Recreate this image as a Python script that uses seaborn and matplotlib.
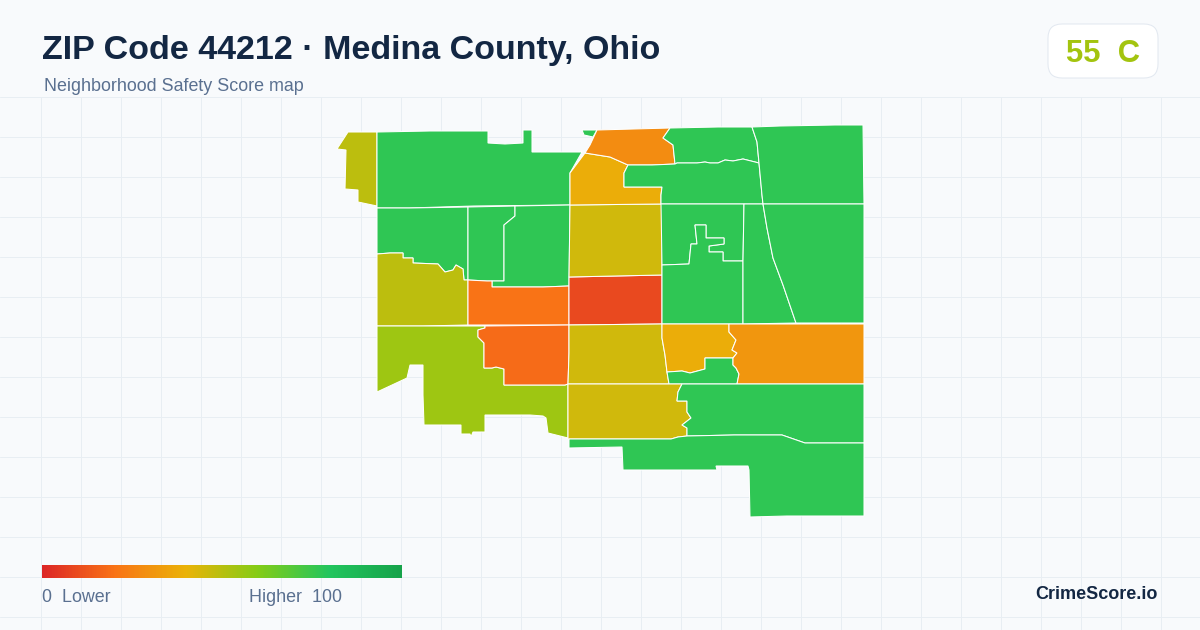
import numpy as np
import seaborn as sns
import matplotlib.pyplot as plt
from matplotlib.colors import LinearSegmentedColormap
from matplotlib.patches import FancyBboxPatch

# block group outlines (pixel grid of the 1200x630 card)
nw_stub = [(348,132),(377,132),(377,206),(358,202),(358,190),(345,189),(346,150),(337,149)]
north_west = [(377,132),(430,131),(488,131),(488,143),(505,144),(523,143),(523,130),(532,130),(532,152),(582,152),(570,173),(570,205),(474,206),(409,208),(377,208)]
north_sliver = [(582,130),(597,130),(593,137),(584,135)]
west_upper = [(377,208),(409,208),(468,207),(468,280),(464,280),(463,269),(456,265),(453,270),(445,272),(438,264),(413,263),(413,258),(403,258),(403,253),(390,253),(377,254)]
west_narrow = [(468,207),(515,206),(515,216),(504,225),(504,281),(492,281),(487,281),(468,280)]
west_inner = [(515,206),(570,205),(569,286),(543,287),(507,287),(492,287),(492,281),(504,281),(504,225),(515,216)]
west_olive = [(377,254),(390,253),(403,253),(403,258),(413,258),(413,263),(438,264),(445,272),(453,270),(456,265),(463,269),(464,280),(468,280),(468,325),(423,326),(377,326)]
west_orange = [(468,280),(487,281),(492,281),(492,287),(507,287),(543,287),(569,286),(569,325),(523,325),(468,325)]
center_red = [(569,277),(662,275),(662,324),(569,325)]
center_north = [(570,205),(662,204),(662,275),(569,277)]
north_amber = [(585,153),(610,157),(628,165),(624,173),(624,187),(662,187),(661,195),(661,204),(570,205),(570,173)]
north_orange = [(597,130),(670,128),(663,138),(673,145),(675,164),(652,165),(628,165),(610,157),(585,153),(590,145)]
north_top = [(670,128),(718,127),(752,127),(757,142),(759,163),(743,159),(733,161),(725,160),(718,163),(710,163),(705,162),(697,163),(677,163),(675,164),(673,145),(663,138)]
north_strip = [(628,165),(652,165),(675,164),(677,163),(697,163),(705,162),(710,163),(718,163),(725,160),(733,161),(743,159),(759,163),(762,195),(763,204),(661,204),(661,195),(662,187),(624,187),(624,173)]
north_east = [(752,127),(780,126),(835,125),(863,125),(864,204),(763,204),(762,195),(759,163),(757,142)]
enclave_top = [(661,204),(744,204),(743,261),(723,261),(723,252),(709,252),(709,246),(724,244),(724,238),(706,238),(706,225),(695,225),(697,244),(691,244),(689,264),(662,265)]
enclave_low = [(662,265),(689,264),(691,244),(697,244),(695,225),(706,225),(706,238),(724,238),(724,244),(709,246),(709,252),(723,252),(723,261),(743,261),(743,324),(662,324)]
east_wedge = [(744,204),(763,204),(767,228),(773,258),(783,285),(796,323),(743,324),(743,261)]
east_big = [(763,204),(864,204),(864,323),(796,323),(783,285),(773,258),(767,228)]
south_lime = [(377,326),(423,326),(485,326),(485,328),(478,330),(478,337),(484,343),(484,368),(492,368),(496,367),(504,369),(504,385),(565,385),(568,384),(568,438),(548,433),(546,418),(543,416),(530,415),(485,415),(485,432),(473,432),(471,437),(470,434),(461,434),(461,425),(424,425),(423,395),(423,365),(410,365),(407,378),(377,392)]
south_orange = [(485,326),(569,325),(569,353),(568,384),(565,385),(504,385),(504,369),(496,367),(492,368),(484,368),(484,343),(478,337),(478,330),(485,328)]
center_south = [(569,325),(662,324),(662,338),(665,355),(667,372),(669,384),(568,384),(569,353)]
mid_amber = [(662,324),(729,324),(729,332),(736,340),(732,350),(737,353),(733,358),(705,358),(705,369),(690,373),(682,371),(667,372),(665,355),(662,338)]
mid_green = [(667,372),(682,371),(690,373),(705,369),(705,358),(733,358),(733,365),(736,368),(739,374),(737,384),(669,384)]
east_amber = [(729,324),(796,324),(864,324),(864,384),(737,384),(739,374),(736,368),(733,365),(733,358),(737,353),(732,350),(736,340),(729,332)]
low_yellow = [(568,384),(682,384),(678,392),(677,401),(687,401),(687,412),(691,418),(682,425),(687,428),(687,436),(678,437),(671,439),(568,439)]
low_green = [(682,384),(864,384),(864,443),(805,443),(782,435),(734,435),(687,436),(687,428),(682,425),(691,418),(687,412),(687,401),(677,401),(678,392)]
south_green = [(569,439),(671,439),(678,437),(687,436),(734,435),(782,435),(805,443),(864,443),(864,516),(787,516),(750,517),(749,470),(748,466),(716,466),(717,470),(623,470),(622,447),(569,448)]

tracts = [nw_stub, north_west, north_sliver, west_upper, west_narrow, west_inner, west_olive,
          west_orange, center_red, center_north, north_amber, north_orange, north_top, north_strip,
          north_east, enclave_top, enclave_low, east_wedge, east_big, south_lime, south_orange,
          center_south, mid_amber, mid_green, east_amber, low_yellow, low_green, south_green]
scores = [49, 77, 77, 77, 77, 77, 49,
          20, 9, 45, 38, 28, 77, 77,
          77, 77, 77, 77, 77, 55, 18,
          45, 38, 77, 31, 45, 77, 77]

stop_values = [0, 0.2, 0.4, 0.6, 0.8, 1]
stop_colors = ["#dc2626", "#f97316", "#eab308", "#84cc16", "#22c55e", "#16a34a"]
score_scale = LinearSegmentedColormap.from_list("safety", list(zip(stop_values, stop_colors)))

title = "ZIP Code 44212 · Medina County, Ohio"
subtitle = "Neighborhood Safety Score map"
badge_label = "55  C"
brand = "CrimeScore.io"

sns.set_theme(style="whitegrid", rc={
    "figure.facecolor": "#f8fafc",
    "axes.facecolor": "#f8fafc",
    "grid.color": "#e8eef3",
    "grid.linewidth": 0.72,
    "axes.edgecolor": "none",
})
plt.rcParams["font.family"] = ["Liberation Sans", "DejaVu Sans"]

fig = plt.figure(figsize=(12, 6.3), dpi=100)
ax = fig.add_axes([0, 0, 1, 533 / 630])
ax.set_xlim(0, 1200)
ax.set_ylim(630, 97)
ax.set_xticks(np.arange(40.5, 1200, 40))
ax.set_yticks(np.arange(97, 630, 40))
ax.tick_params(length=0, labelbottom=False, labelleft=False)
ax.set_axisbelow(True)

for shape, score in zip(tracts, scores):
    xs, ys = zip(*shape)
    ax.fill(xs, ys, facecolor=score_scale(score / 100), edgecolor="white", linewidth=0.75)

# header
ax.text(42, 59, title, fontsize=24.5, fontweight="bold", color="#132743", clip_on=False)
ax.text(44, 91, subtitle, fontsize=12.9, color="#5a7090", clip_on=False)

badge = FancyBboxPatch((1062, 38), 82, 26, boxstyle="round,pad=14,rounding_size=14",
                       mutation_aspect=1, facecolor="white", edgecolor="#e2e8f0",
                       linewidth=0.72, clip_on=False)
ax.add_patch(badge)
ax.text(1103, 62, badge_label, fontsize=22.3, fontweight="bold", color="#a3c40f", ha="center", clip_on=False)

# legend bar
cax = fig.add_axes([42 / 1200, 1 - 578 / 630, 360 / 1200, 13 / 630])
ramp = np.linspace(0, 100, 360).reshape(1, -1)
sns.heatmap(ramp, cmap=score_scale, vmin=0, vmax=100, cbar=False,
            xticklabels=False, yticklabels=False, ax=cax)
ax.text(42, 602, "0  Lower", fontsize=12.9, color="#5a7090")
ax.text(249, 602, "Higher  100", fontsize=12.9, color="#5a7090")
ax.text(1158, 599, brand, fontsize=13, fontweight="bold", color="#132743", ha="right")

fig.savefig("out.png", dpi=100, facecolor=fig.get_facecolor())
